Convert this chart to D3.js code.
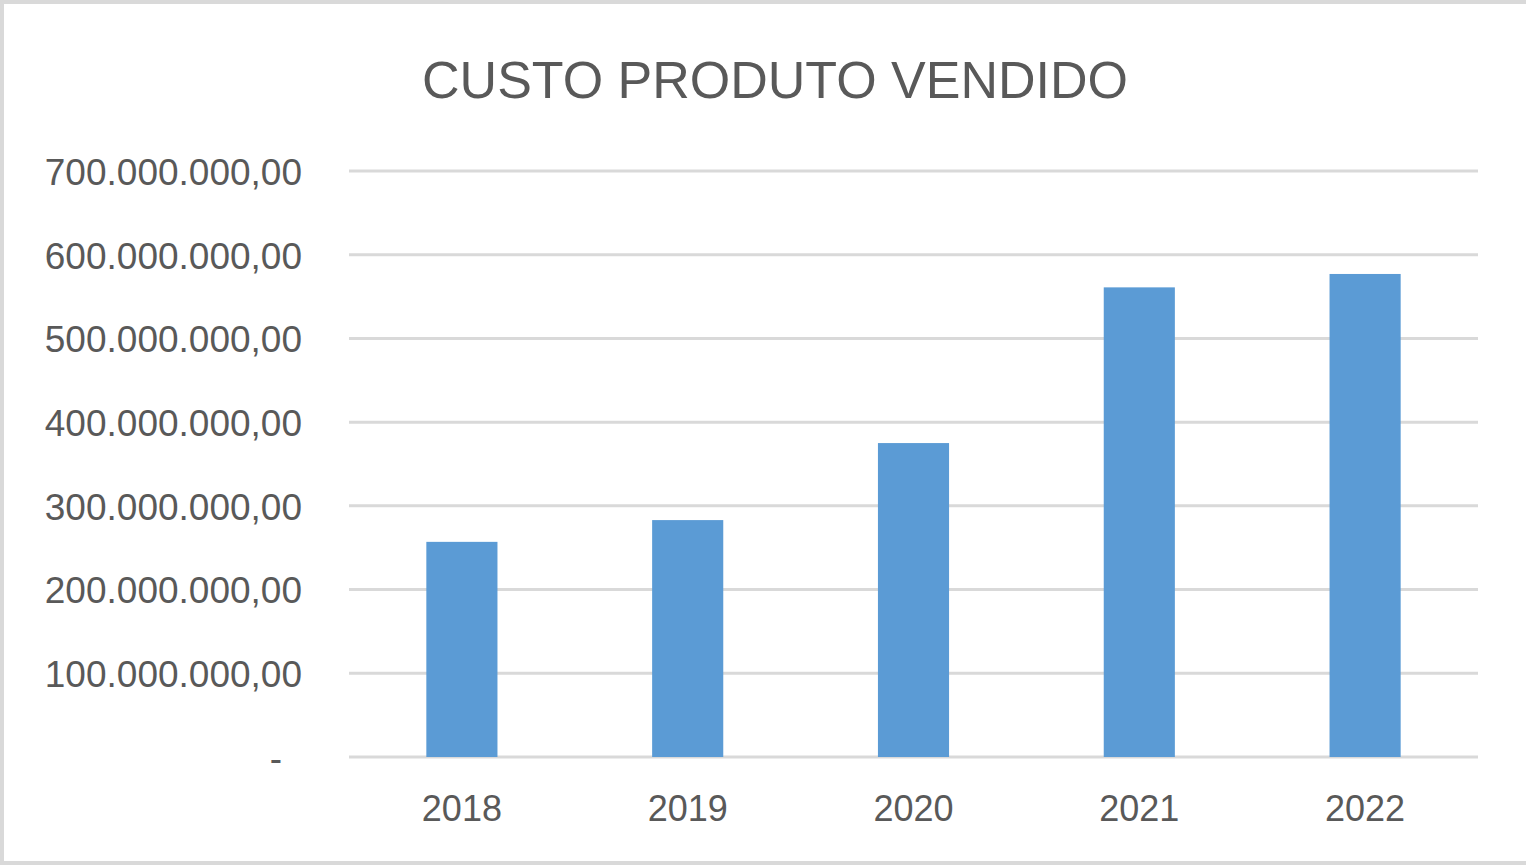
<!DOCTYPE html>
<html>
<head>
<meta charset="utf-8">
<script src="https://cdn.jsdelivr.net/npm/d3@7"></script>
<style>
  body { margin: 0; background: #fff; }
  svg { display: block; }
  text { font-family: "Liberation Sans", Arial, sans-serif; fill: #595959; }
</style>
</head>
<body>
<svg width="1526" height="865"></svg>
<script>
// data
var years = ["2018", "2019", "2020", "2021", "2022"];
var custo = [257000000, 283000000, 375000000, 561000000, 577000000];
var yTicks = [0, 100000000, 200000000, 300000000, 400000000, 500000000, 600000000, 700000000];
var chartTitle = "CUSTO PRODUTO VENDIDO";

var svg = d3.select("svg");
var width = +svg.attr("width"), height = +svg.attr("height");
var margin = {top: 171, right: 48, bottom: 108, left: 349};

// outer frame
svg.append("rect")
    .attr("x", 2).attr("y", 2)
    .attr("width", width + 10).attr("height", height - 4)
    .attr("fill", "#fff")
    .attr("stroke", "#d9d9d9")
    .attr("stroke-width", 4);

var x = d3.scaleBand()
    .domain(years)
    .range([margin.left, width - margin.right])
    .padding(0);

var y = d3.scaleLinear()
    .domain([0, 700000000])
    .range([height - margin.bottom, margin.top]);

// pt-BR number format like 700.000.000,00
var ptBR = d3.formatLocale({decimal: ",", thousands: ".", grouping: [3], currency: ["R$", ""]});
var fmt = ptBR.format(",.2f");

// gridlines
svg.append("g")
    .selectAll("line")
    .data(yTicks)
    .enter().append("line")
    .attr("x1", x.range()[0])
    .attr("x2", x.range()[1])
    .attr("y1", function(d) { return y(d); })
    .attr("y2", function(d) { return y(d); })
    .attr("stroke", "#d9d9d9")
    .attr("stroke-width", 3);

// y axis labels
var yAxis = d3.axisLeft(y)
    .tickValues(yTicks)
    .tickSize(0)
    .tickPadding(47)
    .tickFormat(function(d) { return d === 0 ? "-" : fmt(d); });

var gy = svg.append("g")
    .attr("transform", "translate(" + margin.left + ",0)")
    .call(yAxis);
gy.select(".domain").remove();
gy.selectAll("text")
    .style("font-size", "37px")
    .attr("fill", "#595959")
    .attr("dy", "0.36em")
    .attr("x", function(d) { return d === 0 ? -67 : -47; });

// bars
var barW = x.bandwidth() * 0.315;
svg.append("g")
    .selectAll("rect")
    .data(custo)
    .enter().append("rect")
    .attr("x", function(d, i) { return x(years[i]) + x.bandwidth() / 2 - barW / 2; })
    .attr("y", function(d) { return y(d); })
    .attr("width", barW)
    .attr("height", function(d) { return y(0) - y(d); })
    .attr("fill", "#5b9bd5");

// x axis labels
var xAxis = d3.axisBottom(x).tickSize(0).tickPadding(38);
var gx = svg.append("g")
    .attr("transform", "translate(0," + y(0) + ")")
    .call(xAxis);
gx.select(".domain").remove();
gx.selectAll("text")
    .style("font-size", "36px")
    .attr("fill", "#595959");

// title
svg.append("text")
    .attr("x", 775)
    .attr("y", 98)
    .attr("text-anchor", "middle")
    .style("font-size", "52px")
    .text(chartTitle);
</script>
</body>
</html>
